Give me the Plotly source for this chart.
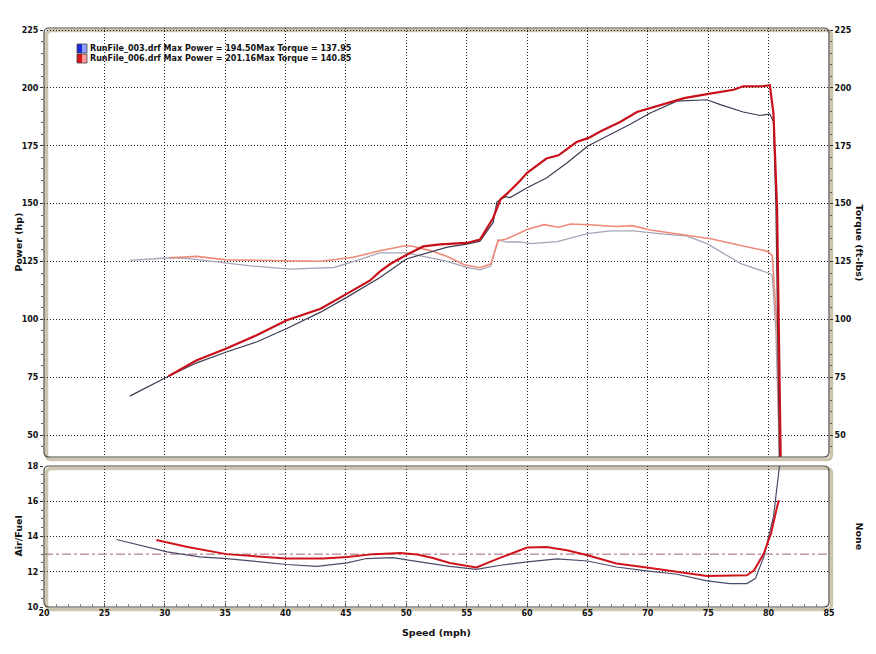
import plotly.graph_objects as go

# ---------------- data ----------------
# RunFile_003 (blue run)
r3_pwr_mph = [27.1, 28.7, 30.3, 32.65, 35.1, 37.6, 40.1, 42.9, 45.1, 47.3, 47.8, 50.0, 52.3, 53.4, 55.0, 56.1,
              57.2, 57.5, 58.2, 58.6, 60.0, 61.6, 63.3, 65.0, 66.6, 68.5, 70.2, 72.4, 74.9, 76.0, 77.9,
              79.3, 80.1, 80.4, 80.6, 80.9]
r3_pwr_hp = [66.8, 71.0, 75.4, 81.2, 85.9, 90.2, 96.0, 103.1, 109.6, 116.5, 118.0, 126.1, 129.7, 131.2, 132.5, 133.8,
             142.0, 150.8, 153.0, 152.6, 156.9, 161.1, 167.6, 174.8, 179.1, 184.2, 189.2, 194.3, 194.9, 192.8, 189.6,
             188.1, 188.7, 185.5, 150.0, 40.0]
r3_trq_mph = [27.1, 30.4, 32.0, 34.0, 37.1, 40.4, 44.0, 45.6, 47.8, 50.0, 51.4, 53.4, 55.0, 56.1, 57.0,
              57.6, 58.3, 59.4, 60.3, 62.5, 65.0, 66.9, 68.8, 71.3, 73.2, 74.9, 77.7, 80.1, 80.3, 80.6, 80.9]
r3_trq_lb = [125.5, 126.6, 126.2, 124.9, 123.1, 121.7, 122.4, 124.9, 128.7, 128.7, 127.2, 125.0, 122.4, 121.4, 123.0,
             134.4, 133.4, 133.5, 132.7, 133.6, 137.0, 138.2, 138.2, 136.8, 136.1, 132.7, 124.1, 119.8, 119.0, 95.0, 40.0]

# RunFile_006 (red run)
r6_pwr_mph = [30.3, 32.65, 35.1, 37.6, 40.1, 42.9, 45.1, 47.0, 47.8, 48.7, 50.0, 51.4, 52.8, 55.0, 56.1, 57.2,
              57.8, 58.3, 59.4, 60.0, 61.6, 62.6, 64.1, 65.1, 66.1, 67.7, 69.1, 71.3, 73.0, 74.9, 77.1, 77.9,
              79.6, 80.1, 80.4, 80.7, 80.85, 81.0]
r6_pwr_hp = [75.4, 82.3, 87.4, 93.1, 99.6, 104.6, 111.1, 116.8, 120.6, 124.0, 127.8, 131.5, 132.4, 133.0, 134.5, 143.9,
             151.9, 154.1, 159.8, 163.3, 169.5, 170.9, 176.6, 178.4, 181.3, 185.3, 189.6, 192.8, 195.6, 197.3, 199.2, 200.7,
             200.8, 201.2, 189.0, 148.0, 100.0, 40.0]
r6_trq_mph = [30.4, 32.65, 35.1, 40.1, 42.9, 45.6, 47.8, 50.0, 50.6, 52.0, 53.4, 54.8, 56.1, 57.0, 57.6, 58.3,
              60.0, 61.4, 62.6, 63.6, 65.1, 67.4, 68.7, 70.2, 73.0, 75.2, 77.7, 79.9, 80.3, 80.55, 80.7, 80.9]
r6_trq_lb = [126.6, 127.2, 125.7, 125.3, 125.1, 126.8, 129.6, 131.9, 131.5, 129.7, 127.1, 123.6, 122.3, 124.0, 134.0, 134.7,
             138.8, 140.9, 139.8, 141.2, 140.9, 140.1, 140.5, 138.6, 136.6, 134.8, 131.9, 129.4, 127.6, 104.0, 95.7, 40.0]

# Air/Fuel
r3_afr_mph = [26.0, 27.95, 30.2, 32.9, 35.1, 37.9, 40.1, 42.6, 45.1, 46.7, 48.9, 50.3, 52.0, 53.6, 55.8, 57.8,
              60.0, 62.5, 65.0, 67.4, 69.9, 72.4, 74.9, 76.8, 78.2, 78.9, 79.6, 80.4, 80.9]
r3_afr = [13.83, 13.5, 13.13, 12.84, 12.75, 12.56, 12.41, 12.31, 12.5, 12.75, 12.8, 12.65, 12.47, 12.31, 12.13, 12.37,
          12.56, 12.73, 12.61, 12.27, 12.05, 11.86, 11.48, 11.33, 11.33, 11.61, 12.84, 15.11, 18.0]
r6_afr_mph = [29.3, 31.9, 35.1, 37.9, 40.1, 43.1, 45.1, 47.3, 49.5, 50.9, 52.2, 53.6, 55.8, 57.8, 60.0, 61.6,
              63.3, 65.0, 67.4, 69.9, 72.4, 74.9, 78.2, 78.8, 79.6, 80.2, 80.7, 80.85]
r6_afr = [13.8, 13.41, 13.0, 12.84, 12.75, 12.75, 12.84, 13.0, 13.07, 12.98, 12.78, 12.5, 12.24, 12.8, 13.37, 13.41,
          13.22, 12.94, 12.47, 12.24, 11.99, 11.76, 11.8, 12.08, 13.03, 14.17, 15.68, 16.06]
afr_target = 13.0

legend_lines = ["RunFile_003.drf Max Power = 194.50Max Torque = 137.95",
                "RunFile_006.drf Max Power = 201.16Max Torque = 140.85"]

x_ticks = [20, 25, 30, 35, 40, 45, 50, 55, 60, 65, 70, 75, 80, 85]
pwr_ticks = [50, 75, 100, 125, 150, 175, 200, 225]
afr_ticks = [10, 12, 14, 16, 18]

# ---------------- figure ----------------
FONT = "DejaVu Sans"
tickfont = dict(family=FONT, size=8, color="#111", weight="bold")

fig = go.Figure()

blue_pwr = "#3b3b52"
blue_trq = "#a8a4b8"
red_pwr = "#c8101a"
red_trq = "#f08a78"

fig.add_trace(go.Scatter(x=r3_trq_mph, y=r3_trq_lb, mode="lines", line=dict(color=blue_trq, width=1.3),
                         xaxis="x", yaxis="y", showlegend=False, hoverinfo="skip"))
fig.add_trace(go.Scatter(x=r6_trq_mph, y=r6_trq_lb, mode="lines", line=dict(color=red_trq, width=1.6),
                         xaxis="x", yaxis="y", showlegend=False, hoverinfo="skip"))
fig.add_trace(go.Scatter(x=r3_pwr_mph, y=r3_pwr_hp, mode="lines", line=dict(color=blue_pwr, width=1.2),
                         xaxis="x", yaxis="y", showlegend=False, hoverinfo="skip"))
fig.add_trace(go.Scatter(x=r6_pwr_mph, y=r6_pwr_hp, mode="lines", line=dict(color=red_pwr, width=2.2),
                         xaxis="x", yaxis="y", showlegend=False, hoverinfo="skip"))

# dummy trace for right axis
fig.add_trace(go.Scatter(x=[None], y=[None], xaxis="x", yaxis="y3", showlegend=False, hoverinfo="skip"))

# bottom panel
fig.add_trace(go.Scatter(x=[20, 85], y=[afr_target, afr_target], mode="lines",
                         line=dict(color="#a0607a", width=1, dash="dashdot"),
                         xaxis="x2", yaxis="y2", showlegend=False, hoverinfo="skip"))
fig.add_trace(go.Scatter(x=r3_afr_mph, y=r3_afr, mode="lines", line=dict(color="#4a4a6a", width=1.2),
                         xaxis="x2", yaxis="y2", showlegend=False, hoverinfo="skip"))
fig.add_trace(go.Scatter(x=r6_afr_mph, y=r6_afr, mode="lines", line=dict(color="#d0141c", width=2.0),
                         xaxis="x2", yaxis="y2", showlegend=False, hoverinfo="skip"))

grid = dict(showgrid=True, gridcolor="#222", griddash="1px,2px", gridwidth=1.2, zeroline=False)

main_dom = [150 / 579, 1.0]
bot_dom = [0.0, 141 / 579]

fig.update_layout(
    width=860, height=638,
    margin=dict(l=36, r=39, t=20, b=39),
    paper_bgcolor="white", plot_bgcolor="white",
    xaxis=dict(domain=[0, 1], range=[20, 85], anchor="y", tickvals=x_ticks, showticklabels=False,
               ticks="", **grid),
    yaxis=dict(domain=main_dom, range=[40.5, 225.9], anchor="x", tickvals=pwr_ticks, ticks="outside",
               ticklen=3, tickcolor="#333", tickfont=tickfont,
               minor=dict(dtick=5, ticks="outside", ticklen=2, tickcolor="#555", showgrid=False), **grid),
    yaxis3=dict(range=[40.5, 225.9], overlaying="y", side="right", anchor="x", tickvals=pwr_ticks,
                ticks="outside", ticklen=3, tickcolor="#333", tickfont=tickfont, showgrid=False,
                zeroline=False, minor=dict(dtick=5, ticks="outside", ticklen=2, tickcolor="#555")),
    xaxis2=dict(domain=[0, 1], range=[20, 85], anchor="y2", tickvals=x_ticks, tickfont=tickfont,
                ticks="inside", ticklen=4, tickcolor="#555",
                minor=dict(dtick=1, ticks="inside", ticklen=3, tickcolor="#888", showgrid=False), **grid),
    yaxis2=dict(domain=bot_dom, range=[10, 18], anchor="x2", tickvals=afr_ticks, ticks="outside",
                ticklen=3, tickcolor="#333", tickfont=tickfont,
                minor=dict(dtick=0.5, ticks="outside", ticklen=2, tickcolor="#555", showgrid=False), **grid),
)

# panel frames: shadow + border with rounded corners
def rounded(x0, y0, x1, y1, rx, ry):
    return (f"M {x0+rx},{y0} L {x1-rx},{y0} Q {x1},{y0} {x1},{y0+ry} L {x1},{y1-ry} "
            f"Q {x1},{y1} {x1-rx},{y1} L {x0+rx},{y1} Q {x0},{y1} {x0},{y1-ry} L {x0},{y0+ry} "
            f"Q {x0},{y0} {x0+rx},{y0} Z")

pw, ph = 785.0, 579.0
rx, ry = 5 / pw, 5 / ph
for dom in (main_dom, bot_dom):
    sx, sy = 2.5 / pw, 2.5 / ph
    fig.add_shape(type="path", xref="paper", yref="paper",
                  path=rounded(0 + sx, dom[0] - sy, 1 + sx, dom[1] - sy, rx, ry),
                  line=dict(color="#cdc6ae", width=3.5), layer="below")
    fig.add_shape(type="path", xref="paper", yref="paper",
                  path=rounded(0, dom[0], 1, dom[1], rx, ry),
                  line=dict(color="#4a4a44", width=1.2), layer="above")

# legend boxes and text
legend_colors = [("#1a2ad8", "#8fa0ff"), ("#d8141a", "#ff9a9a")]
for i, (txt, (c1, c2)) in enumerate(zip(legend_lines, legend_colors)):
    ytop = 44 + i * 10
    x0 = (77 - 44) / pw
    xm = (82 - 44) / pw
    x1 = (87 - 44) / pw
    y0 = 1 - (ytop - 28) / ph
    y1 = 1 - (ytop + 9 - 28) / ph
    fig.add_shape(type="rect", xref="paper", yref="paper", x0=x0, x1=xm, y0=y1, y1=y0,
                  fillcolor=c1, line=dict(width=0))
    fig.add_shape(type="rect", xref="paper", yref="paper", x0=xm, x1=x1, y0=y1, y1=y0,
                  fillcolor=c2, line=dict(width=0))
    fig.add_shape(type="rect", xref="paper", yref="paper", x0=x0, x1=x1, y0=y1, y1=y0,
                  line=dict(color="#444", width=0.8))
    fig.add_annotation(xref="paper", yref="paper", x=(88 - 44) / pw, y=1 - (ytop + 4.5 - 28) / ph,
                       text=txt, showarrow=False, xanchor="left", yanchor="middle",
                       font=dict(family=FONT, size=8, color="#111", weight="bold"))

titlefont = dict(family=FONT, size=9.5, color="#111", weight="bold")
fig.add_annotation(xref="paper", yref="paper", x=-26 / pw, y=(main_dom[0] + main_dom[1]) / 2,
                   text="Power (hp)", textangle=-90, showarrow=False, font=titlefont,
                   xanchor="center", yanchor="middle")
fig.add_annotation(xref="paper", yref="paper", x=1 + 30 / pw, y=(main_dom[0] + main_dom[1]) / 2,
                   text="Torque (ft-lbs)", textangle=90, showarrow=False, font=titlefont,
                   xanchor="center", yanchor="middle")
fig.add_annotation(xref="paper", yref="paper", x=-26 / pw, y=(bot_dom[0] + bot_dom[1]) / 2,
                   text="Air/Fuel", textangle=-90, showarrow=False, font=titlefont,
                   xanchor="center", yanchor="middle")
fig.add_annotation(xref="paper", yref="paper", x=1 + 30 / pw, y=(bot_dom[0] + bot_dom[1]) / 2,
                   text="None", textangle=90, showarrow=False, font=titlefont,
                   xanchor="center", yanchor="middle")
fig.add_annotation(xref="paper", yref="paper", x=(436 - 44) / pw, y=-(632 - 607) / ph,
                   text="Speed (mph)", showarrow=False, font=titlefont,
                   xanchor="center", yanchor="middle")

fig.write_html("out.html")
